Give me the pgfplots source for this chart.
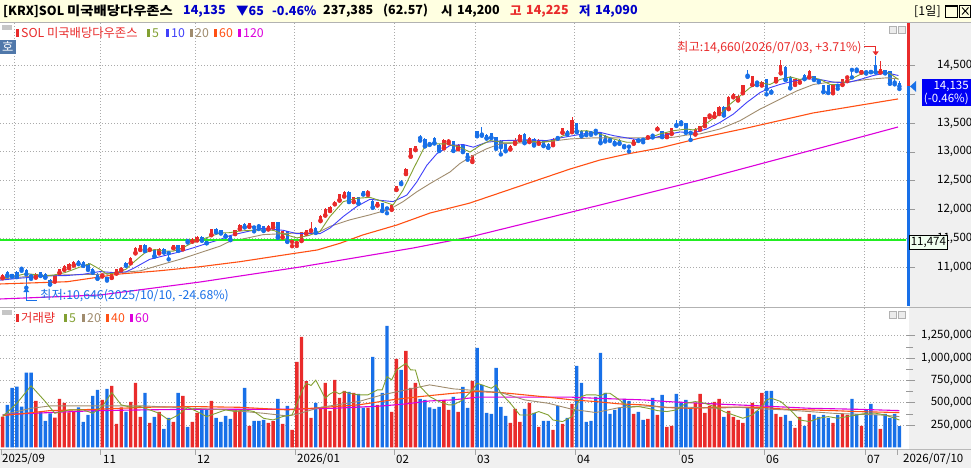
\documentclass[border=0pt]{standalone}
\usepackage{fontspec}
\setmainfont{Noto Sans CJK KR}
\usepackage{graphicx}
\usepackage{pgfplots}
\usepackage{pgfplotstable}
\pgfplotsset{compat=1.18}

\definecolor{cup}{RGB}{233,43,43}
\definecolor{cdn}{RGB}{24,112,232}
\definecolor{ma5}{RGB}{130,160,50}
\definecolor{ma10}{RGB}{64,64,250}
\definecolor{ma20}{RGB}{160,140,110}
\definecolor{ma60}{RGB}{255,80,20}
\definecolor{ma120}{RGB}{220,0,220}
\definecolor{hline}{RGB}{34,238,34}
\definecolor{hdrbg}{RGB}{255,255,225}
\definecolor{panelbg}{RGB}{240,240,240}
\definecolor{gridc}{RGB}{170,170,170}
\definecolor{txtblue}{RGB}{0,0,200}
\definecolor{boxblue}{RGB}{0,0,245}
\definecolor{hobg}{RGB}{80,120,170}
\newcommand\fs{\fontsize{11.5}{13}\selectfont}
\newcommand\fl{\fontsize{12.3}{13.5}\selectfont}
\newcommand\fh{\fontsize{12.5}{14}\selectfont\bfseries}

\pgfplotstableread{
i O H L C V u
0 10825 10885 10810 10870 344000 1
1 10926 10940 10850 10863 475000 0
2 10880 10890 10835 10850 665000 0
3 10920 10930 10830 10840 680000 0
4 10985 11010 10940 10975 456000 0
5 10960 10975 10646 10880 837000 0
6 10875 10890 10800 10845 837000 0
7 10830 10895 10820 10880 519000 1
8 10910 10920 10850 10860 400000 0
9 10890 10900 10820 10830 295000 0
10 10780 10790 10700 10710 381000 0
11 10760 10870 10750 10860 333000 1
12 10909 10975 10900 10966 542000 1
13 10966 11035 10955 11023 497000 1
14 10995 11070 10985 11063 392000 1
15 11040 11110 11030 11097 396000 1
16 11109 11125 11055 11063 448000 0
17 11097 11110 11025 11035 284000 0
18 11063 11075 10955 10966 362000 0
19 10970 10985 10905 10920 575000 0
20 10880 10895 10800 10812 643000 0
21 10860 10880 10840 10868 531000 1
22 10830 10840 10770 10800 654000 0
23 10823 10920 10815 10909 688000 1
24 10900 10975 10890 10966 262000 1
25 10960 11000 10950 10990 448000 1
26 11080 11090 11025 11035 396000 0
27 11080 11175 11070 11166 508000 1
28 11252 11345 11240 11338 721000 1
29 11309 11395 11300 11383 340000 1
30 11395 11405 11280 11292 609000 0
31 11309 11350 11300 11338 273000 1
32 11298 11310 11185 11195 340000 0
33 11252 11330 11240 11320 396000 1
34 11320 11330 11255 11263 206000 0
35 11250 11260 11138 11245 329000 0
36 11338 11390 11330 11383 284000 1
37 11378 11390 11285 11292 609000 0
38 11320 11390 11310 11383 575000 1
39 11460 11480 11430 11455 228000 0
40 11452 11500 11445 11492 284000 1
41 11475 11535 11465 11527 385000 1
42 11527 11535 11460 11470 422000 0
43 11490 11500 11415 11423 418000 0
44 11566 11672 11555 11664 519000 1
45 11669 11680 11605 11612 329000 0
46 11640 11650 11585 11595 284000 0
47 11578 11590 11530 11538 351000 0
48 11538 11550 11470 11481 318000 0
49 11583 11650 11575 11640 418000 1
50 11669 11745 11660 11738 411000 1
51 11750 11760 11690 11700 665000 0
52 11710 11775 11700 11765 240000 1
53 11700 11720 11623 11690 295000 0
54 11720 11755 11663 11710 295000 0
55 11709 11715 11630 11640 306000 0
56 11663 11730 11655 11720 273000 1
57 11697 11790 11690 11777 292000 1
58 11777 11790 11510 11526 542000 0
59 11526 11635 11515 11623 262000 1
60 11623 11630 11440 11451 463000 0
61 11440 11470 11366 11450 194000 1
62 11420 11440 11370 11430 957000 1
63 11469 11615 11455 11606 1237000 1
64 11590 11650 11580 11640 741000 1
65 11640 11777 11630 11660 329000 1
66 11686 11700 11595 11606 497000 0
67 11812 11900 11800 11892 448000 1
68 11903 12025 11895 12017 721000 1
69 11983 12060 11975 12052 407000 1
70 12098 12155 12090 12110 755000 1
71 12166 12270 12155 12263 553000 1
72 12235 12315 12225 12309 631000 1
73 12309 12320 12130 12138 620000 0
74 12138 12220 12130 12212 609000 1
75 12212 12220 12100 12109 598000 0
76 12321 12330 12260 12269 444000 0
77 12290 12338 12252 12300 444000 1
78 12149 12160 12030 12040 1013000 0
79 12080 12135 12070 12126 474000 1
80 12109 12120 11975 11983 609000 0
81 12035 12040 11937 12020 1360000 0
82 12006 12090 11995 12080 396000 1
83 12349 12415 12340 12406 990000 1
84 12470 12509 12441 12460 867000 0
85 12624 12720 12615 12709 1080000 1
86 12927 13075 12915 13064 665000 1
87 13041 13110 13030 13098 721000 1
88 13250 13293 13195 13240 542000 0
89 13224 13235 13095 13104 531000 0
90 13150 13155 13121 13135 448000 0
91 13241 13250 13145 13155 429000 0
92 13121 13130 13015 13024 452000 0
93 13070 13215 13060 13207 531000 1
94 13180 13215 13150 13190 418000 1
95 13184 13195 13015 13024 564000 0
96 13052 13130 13045 13121 396000 1
97 13121 13130 12996 13007 676000 0
98 12978 12985 12864 12910 441000 0
99 12853 12950 12824 12940 744000 1
100 13356 13370 13270 13282 1114000 0
101 13310 13425 13280 13300 699000 0
102 13299 13310 13230 13242 385000 0
103 13327 13335 13240 13253 374000 0
104 13253 13260 13053 13081 889000 0
105 13196 13200 12956 13081 452000 0
106 13139 13150 13010 13024 351000 0
107 13053 13120 13040 13110 273000 1
108 13150 13242 13140 13207 430000 1
109 13213 13310 13200 13299 284000 1
110 13310 13320 13150 13167 430000 0
111 13184 13250 13170 13242 497000 1
112 13224 13235 13110 13127 385000 0
113 13150 13215 13140 13207 228000 1
114 13184 13195 13100 13110 295000 0
115 13139 13150 13070 13081 295000 0
116 13127 13235 13115 13224 194000 1
117 13253 13275 13230 13240 460000 0
118 13339 13420 13330 13413 262000 1
119 13367 13380 13300 13310 329000 0
120 13356 13607 13340 13550 486000 1
121 13493 13505 13340 13356 912000 0
122 13367 13375 13270 13282 721000 0
123 13367 13375 13290 13299 284000 0
124 13335 13345 13295 13325 295000 0
125 13375 13400 13320 13365 564000 0
126 13327 13335 13150 13167 1058000 0
127 13282 13290 13180 13196 609000 0
128 13215 13230 13190 13205 374000 0
129 13196 13205 13130 13150 418000 0
130 13213 13220 13140 13150 441000 0
131 13110 13115 13081 13100 542000 0
132 13099 13110 13007 13090 519000 0
133 13150 13215 13140 13207 374000 1
134 13210 13230 13190 13200 396000 0
135 13224 13240 13167 13210 306000 0
136 13253 13290 13245 13280 318000 1
137 13290 13310 13250 13280 553000 0
138 13396 13445 13390 13436 362000 1
139 13356 13365 13255 13264 587000 0
140 13264 13330 13255 13321 228000 1
141 13321 13420 13310 13413 239000 1
142 13475 13550 13450 13465 598000 0
143 13525 13545 13480 13510 508000 0
144 13493 13500 13330 13339 531000 0
145 13340 13360 13207 13330 441000 0
146 13310 13405 13300 13396 497000 1
147 13397 13450 13385 13442 598000 1
148 13454 13605 13445 13597 385000 1
149 13630 13660 13600 13640 463000 1
150 13614 13700 13605 13694 508000 1
151 13665 13790 13655 13780 542000 1
152 13780 13790 13630 13637 340000 0
153 13751 13965 13740 13957 407000 1
154 13957 14020 13945 14008 340000 1
155 13900 13980 13890 13968 306000 1
156 14026 14165 14015 14157 273000 1
157 14330 14426 14300 14320 441000 0
158 14168 14320 14160 14311 497000 1
159 14210 14214 14157 14200 407000 0
160 14157 14220 14150 14214 609000 1
161 14254 14260 13997 14083 631000 0
162 14060 14083 14026 14040 631000 0
163 14226 14300 14220 14294 374000 1
164 14369 14586 14360 14500 340000 1
165 14471 14480 14245 14254 362000 0
166 14300 14310 14100 14111 295000 0
167 14168 14260 14160 14254 217000 1
168 14208 14265 14200 14254 340000 1
169 14340 14350 14260 14271 239000 0
170 14300 14410 14290 14397 374000 1
171 14311 14320 14245 14254 362000 0
172 14240 14254 14208 14226 340000 0
173 14151 14160 14035 14043 362000 0
174 14151 14160 14020 14026 329000 0
175 14026 14160 14015 14151 273000 1
176 14155 14170 14094 14145 362000 0
177 14168 14265 14160 14254 374000 1
178 14290 14323 14226 14300 362000 1
179 14440 14460 14290 14420 542000 0
180 14440 14460 14400 14425 374000 0
181 14380 14420 14375 14414 239000 1
182 14390 14400 14357 14380 418000 0
183 14397 14410 14380 14385 486000 0
184 14512 14660 14375 14380 362000 0
185 14380 14569 14375 14437 206000 1
186 14414 14420 14360 14369 374000 0
187 14397 14400 14180 14186 329000 0
188 14210 14254 14170 14200 374000 0
189 14200 14225 14090 14135 237385 0
}\candles

\pgfplotsset{
  chartaxis/.style={
    scale only axis, anchor=south west, width=906pt,
    xmin=-0.55, xmax=190.39,
    axis line style={draw=none},
    xtick={2.58,20.58,40.58,61.58,82.58,99.58,120.58,142.58,160.58,181.58},
    xticklabels={}, xtick style={draw=none},
    ytick pos=right, yticklabel pos=right,
    tick align=outside, major tick length=9pt, minor tick length=7pt,
    ytick style={draw=gray!80, line width=0.6pt},
    grid=major,
    major grid style={draw=gridc, dash pattern=on 1pt off 2pt, line width=0.8pt},
    scaled y ticks=false,
    yticklabel style={font=\fs, anchor=east, inner sep=0pt, xshift=57.5pt,
      /pgf/number format/fixed, /pgf/number format/precision=0,
      /pgf/number format/1000 sep={,}, /pgf/number format/assume math mode=true},
  },
  wick/.style={only marks, mark=none, forget plot, color=#1, draw=#1,
    error bars/.cd, y dir=plus, y explicit, error mark=none,
    error bar style={draw=#1, color=#1, line width=1pt}, /pgfplots/.cd},
  body/.style={only marks, mark=none, forget plot, color=#1, draw=#1,
    error bars/.cd, y dir=plus, y explicit, error mark=none,
    error bar style={draw=#1, color=#1, line width=3.4pt}, /pgfplots/.cd},
}

\begin{document}
\begin{tikzpicture}
\useasboundingbox (0pt,0pt) rectangle (971pt,-468pt);
\clip (0pt,0pt) rectangle (971pt,-468pt);
\begin{scope}[x=1pt,y=1pt]
\fill[white] (0,0) rectangle (971,-468);
\fill[hdrbg] (0,0) rectangle (971,-22);
\draw[gray!60, line width=1pt] (0,-22.5) -- (971,-22.5);
\fill[panelbg] (909,-23) rectangle (971,-449);
\fill[panelbg] (0,-449) rectangle (971,-468);
\draw[gray!55] (0,-449) -- (971,-449);
\draw[gray!60, line width=1pt] (0,-307) -- (971,-307);
\end{scope}

% ---------------- price panel ----------------
\begin{axis}[chartaxis, at={(0pt,-306pt)}, height=283pt,
  ymin=10329.4, ymax=15233,
  ytick={11000,11500,12000,12500,13000,13500,14500},
  extra y ticks={14000}, extra y tick labels={},
  extra y tick style={grid=major},
  minor y tick num=1]
\addplot[restrict expr to domain={\thisrow{u}}{0.5:1.5}, wick=cup]
  table[x=i, y=L, y error plus expr={\thisrow{H}-\thisrow{L}}] {\candles};
\addplot[restrict expr to domain={\thisrow{u}}{-0.5:0.5}, wick=cdn]
  table[x=i, y=L, y error plus expr={\thisrow{H}-\thisrow{L}}] {\candles};
\addplot[restrict expr to domain={\thisrow{u}}{0.5:1.5}, body=cup]
  table[x=i, y expr={min(\thisrow{O},\thisrow{C})}, y error plus expr={max(abs(\thisrow{C}-\thisrow{O}),18)}] {\candles};
\addplot[restrict expr to domain={\thisrow{u}}{-0.5:0.5}, body=cdn]
  table[x=i, y expr={min(\thisrow{O},\thisrow{C})}, y error plus expr={max(abs(\thisrow{C}-\thisrow{O}),18)}] {\candles};

% 120 MA
\addplot[ma120, line width=1.1pt] coordinates {(-0.55,10451)(20.5,10520)(41.6,10745)(50,10849)(62.7,11005)(86.5,11334)(98.5,11525)(125.9,12079)(147,12513)(175.4,13136)(188.7,13431)};
% 60 MA
\addplot[ma60, line width=1.1pt] coordinates {(-0.55,10711)(13.6,10750)(24.7,10884)(33.2,10941)(41.6,11010)(50,11097)(60.6,11230)(66.3,11300)(71.1,11416)(75.9,11560)(83.1,11733)(90.1,11941)(98.5,12114)(119.6,12703)(125.9,12859)(131.6,12963)(138.5,13067)(147,13240)(156.9,13414)(170.8,13674)(188.7,13917)};
% 20 MA
\addplot[ma20, line width=0.9pt] coordinates {(-0.5,10794)(6.5,10852)(13.5,10869)(20.5,10880)(24.7,10909)(29,10938)(33.2,11040)(37.4,11138)(41.6,11252)(45.8,11366)(47.9,11450)(50,11480)(54.9,11566)(62,11594)(66.2,11594)(69,11709)(73.2,11823)(77.4,11909)(81.6,12006)(84.4,12138)(87.3,12309)(90.1,12452)(94.3,12652)(96.4,12800)(99.2,12939)(102,13053)(104.8,13139)(107.6,13150)(114,13167)(119.6,13224)(124.5,13242)(131.5,13242)(135.7,13242)(141.4,13253)(144,13290)(147,13311)(151.2,13397)(155.4,13540)(159.6,13740)(163.8,13911)(167.3,14054)(170.9,14168)(174.4,14208)(177.9,14208)(182.1,14254)(186.3,14283)(188.8,14266)};
% 10 MA
\addplot[ma10, line width=0.9pt] coordinates {(-0.5,10777)(3.7,10812)(10,10852)(13.5,10857)(17,10880)(20.5,10926)(23.3,10909)(26,10920)(27.6,10983)(31,11138)(34.6,11212)(37.4,11269)(40.2,11338)(43,11412)(45.8,11481)(47.9,11549)(50,11590)(54.9,11680)(59.2,11640)(62,11583)(66.9,11583)(69,11680)(71.8,11880)(74.6,12052)(77.4,12178)(80.2,12155)(82.3,12138)(85.2,12252)(87.3,12481)(89.4,12767)(91.5,12967)(94.3,13110)(97.1,13127)(99.2,13081)(102,13167)(105.5,13196)(110.5,13207)(114.7,13196)(117.5,13242)(120.3,13282)(123.1,13321)(125.9,13339)(128.7,13282)(131.5,13242)(134.3,13207)(137.1,13242)(140,13299)(142.8,13345)(145.6,13328)(148.4,13397)(151.2,13511)(154,13654)(156.8,13854)(159.6,14026)(161.7,14111)(163.8,14168)(166.6,14226)(169.5,14266)(172.3,14254)(175.1,14208)(177.9,14197)(180.7,14254)(183.5,14323)(186.3,14369)(188.8,14323)};
% 5 MA
\addplot[ma5, line width=0.9pt] coordinates {(-0.5,10812)(3,10852)(5,10892)(7.2,10869)(9.3,10852)(11,10869)(13.2,10909)(16,10995)(18.4,11063)(20.5,10966)(22,10880)(24,10909)(26,10966)(27.9,11109)(30,11252)(32,11309)(33.9,11281)(36,11281)(38,11338)(39.9,11423)(41.9,11481)(43.9,11538)(45.9,11595)(47.9,11600)(50,11630)(54.9,11650)(57.1,11640)(58.5,11594)(62,11509)(64.5,11550)(66.9,11623)(69,11880)(71.8,12138)(74.6,12195)(77.4,12212)(80.2,12138)(82.3,12080)(84.4,12338)(86.6,12709)(88.7,13052)(90.1,13138)(93.6,13138)(96.4,13081)(98.5,12996)(100.6,13110)(102.7,13196)(105.5,13167)(108.3,13167)(110.5,13196)(113.3,13167)(116.1,13196)(118.2,13282)(120.3,13356)(123.1,13367)(125.9,13310)(128.7,13224)(131.5,13167)(133.6,13167)(135.7,13224)(138.5,13310)(141.4,13367)(144.2,13396)(145.5,13380)(147,13410)(149.1,13540)(151.2,13654)(153.3,13825)(155.4,13968)(157.5,14111)(159.6,14197)(161.7,14168)(163.8,14254)(166,14300)(168,14254)(170.2,14300)(172.3,14254)(174.4,14168)(176.5,14168)(178.6,14254)(180.7,14340)(182.8,14380)(184.9,14397)(187,14357)(188.8,14254)};
% horizontal line at 11,474
\addplot[hline, line width=2pt] coordinates {(-1,11474)(191,11474)};
\end{axis}

% ---------------- volume panel ----------------
\begin{axis}[chartaxis, at={(0pt,-447.3pt)}, height=139.3pt,
  ymin=0, ymax=1559561,
  ytick={250000,500000,750000,1000000,1250000}, minor y tick num=1]
\addplot[ybar, bar width=3.4pt, bar shift=0pt, fill=cup, draw=none, forget plot,
  restrict expr to domain={\thisrow{u}}{0.5:1.5}] table[x=i, y=V] {\candles};
\addplot[ybar, bar width=3.4pt, bar shift=0pt, fill=cdn, draw=none, forget plot,
  restrict expr to domain={\thisrow{u}}{-0.5:0.5}] table[x=i, y=V] {\candles};
\addplot[ma120, line width=1.1pt] coordinates {(0,366000)(10,389000)(20,411000)(30,419000)(40,426000)(50,426000)(60,426000)(70,437000)(80,463000)(85,486000)(90,519000)(95,531000)(100,561000)(110,561000)(120,561000)(125,549000)(135,531000)(140,512000)(150,486000)(160,463000)(170,437000)(180,426000)(189,411000)};
\addplot[ma60, line width=1.1pt] coordinates {(0,355000)(5,381000)(10,411000)(20,426000)(30,448000)(40,456000)(50,448000)(60,419000)(65,437000)(75,475000)(82,531000)(88,568000)(95,605000)(100,624000)(105,613000)(110,587000)(115,561000)(120,531000)(125,512000)(130,486000)(135,475000)(140,445000)(145,437000)(150,448000)(155,448000)(160,448000)(165,426000)(170,419000)(175,411000)(180,400000)(189,389000)};
\addplot[ma20, line width=0.9pt] coordinates {(0,362000)(6,437000)(10,463000)(30,463000)(40,437000)(47,419000)(55,381000)(60,351000)(62,370000)(67,448000)(75,512000)(80,587000)(85,643000)(90,699000)(95,654000)(100,635000)(105,613000)(110,531000)(115,493000)(120,426000)(125,389000)(130,445000)(135,463000)(140,448000)(145,448000)(150,437000)(155,448000)(160,430000)(165,419000)(170,400000)(175,381000)(180,370000)(185,362000)(189,344000)};
\addplot[ma5, line width=0.9pt] coordinates {(0,344000)(3,493000)(6,688000)(9,512000)(11,381000)(14,419000)(17,419000)(19,381000)(21,456000)(23,613000)(25,475000)(27,448000)(29,456000)(31,419000)(33,381000)(35,306000)(37,362000)(39,448000)(41,400000)(43,344000)(45,381000)(47,419000)(49,400000)(51,419000)(53,400000)(55,325000)(57,306000)(59,344000)(61,362000)(62,484000)(63,623000)(64,718000)(65,692000)(66,752000)(67,650000)(68,547000)(69,598000)(70,624000)(71,598000)(72,624000)(73,605000)(75,587000)(77,587000)(79,643000)(80,643000)(81,792000)(82,755000)(83,867000)(84,904000)(85,939000)(86,867000)(87,865000)(88,680000)(90,568000)(92,512000)(94,475000)(95,475000)(97,531000)(99,643000)(100,717000)(101,699000)(102,680000)(103,661000)(104,699000)(105,605000)(107,493000)(109,362000)(111,362000)(113,400000)(115,362000)(116,306000)(118,288000)(120,344000)(121,475000)(122,568000)(123,587000)(125,587000)(126,575000)(127,605000)(128,605000)(129,568000)(130,531000)(132,448000)(134,456000)(136,437000)(138,411000)(140,400000)(142,419000)(144,493000)(146,512000)(148,493000)(150,456000)(152,400000)(154,362000)(156,325000)(158,362000)(160,456000)(161,531000)(162,549000)(163,531000)(164,512000)(166,419000)(168,306000)(170,288000)(172,325000)(174,344000)(176,325000)(178,344000)(180,362000)(182,381000)(184,381000)(186,362000)(188,325000)(189,306000)};
\end{axis}

\begin{scope}[x=1pt,y=1pt, t/.style={font=\fl, inner sep=0pt, anchor=west}, h/.style={font=\fh, inner sep=0pt, anchor=west}]
% ---------------- right side decorations ----------------
\fill[cup] (906.5,-23) rectangle (909.5,-86.4);
\fill[cdn] (906.5,-86.4) rectangle (909.5,-306);
\fill[cdn] (910,-86.4) -- (916,-81) -- (916,-91.8) -- cycle;
\node[fill=boxblue, text=white, font=\fs, align=right, anchor=north east, inner xsep=1pt, inner ysep=1.5pt, minimum width=49pt] at (971,-79) {14,135\\(-0.46\%)};
\node[draw=black, line width=0.6pt, fill={rgb,255:red,240;green,255;blue,240}, font=\fs, anchor=west, inner xsep=1.5pt, inner ysep=1pt, minimum height=14pt] at (909,-242) {11,474};

% ---------------- header ----------------
\node[h] at (3,-11) {[KRX]SOL \scalebox{1.15}[1]{미국배당다우존스}};
\node[h, text=txtblue] at (183,-11) {14,135};
\node[h, text=txtblue] at (236,-11) {▼65};
\node[h, text=txtblue] at (272,-11) {-0.46\%};
\node[h] at (323,-11) {237,385};
\node[h] at (383,-11) {(62.57)};
\node[h] at (441,-11) {시};
\node[h] at (457,-11) {14,200};
\node[h, text=cup] at (510,-11) {고};
\node[h, text=cup] at (526,-11) {14,225};
\node[h, text=txtblue] at (579,-11) {저};
\node[h, text=txtblue] at (595,-11) {14,090};
\node[t] at (914,-11) {[1일]};
\draw[black, line width=0.8pt] (945.5,-5) rectangle (957.5,-17);
\draw[black, line width=1.4pt] (946,-6.5) -- (957,-6.5);
\draw[black, line width=0.8pt] (959.5,-5) rectangle (970.5,-17);
\draw[black, line width=0.9pt] (962,-7.5) -- (968.5,-14.5) (962,-14.5) -- (968.5,-7.5);

% ---------------- legends ----------------
\fill[gray!45] (2,-25) rectangle (12,-30);
\fill[hobg] (0,-40) rectangle (16,-54);
\node[t, text=white] at (2,-47) {호};
\fill[cup] (16,-29) rectangle (18.5,-37);
\node[t, text=cup] at (21,-33) {SOL 미국배당다우존스};
\fill[ma5] (147,-29) rectangle (149.5,-37);   \node[t, text=ma5] at (152,-33) {5};
\fill[ma10] (166,-29) rectangle (168.5,-37);  \node[t, text=ma10] at (171,-33) {10};
\fill[ma20] (190,-29) rectangle (192.5,-37);  \node[t, text=ma20] at (195,-33) {20};
\fill[ma60] (214,-29) rectangle (216.5,-37);  \node[t, text=ma60] at (219,-33) {60};
\fill[ma120] (238,-29) rectangle (240.5,-37); \node[t, text=ma120] at (243,-33) {120};
\fill[gray!45] (2,-310) rectangle (12,-315);
\fill[cup] (16,-314) rectangle (18.5,-322);
\node[t, text=cup] at (21,-318) {거래량};
\fill[ma5] (64,-314) rectangle (66.5,-322);   \node[t, text=ma5] at (69,-318) {5};
\fill[ma20] (82,-314) rectangle (84.5,-322);  \node[t, text=ma20] at (87,-318) {20};
\fill[ma60] (106,-314) rectangle (108.5,-322); \node[t, text=ma60] at (111,-318) {40};
\fill[ma120] (130,-314) rectangle (132.5,-322); \node[t, text=ma120] at (135,-318) {60};
% small panel buttons
\foreach \yy in {-26,-311} {
  \draw[gray!60, fill=gray!15] (889,\yy) rectangle (896,\yy-7);
  \draw[gray!60, fill=gray!15] (898,\yy) rectangle (905,\yy-7);
}

% ---------------- annotations ----------------
\node[t, text=cup] at (677,-48) {최고:14,660(2026/07/03, +3.71\%)};
\draw[cup, line width=0.8pt] (864,-46.5) -- (875.7,-46.5) -- (875.7,-52);
\fill[cup] (872.7,-51.5) -- (878.7,-51.5) -- (875.7,-55.5) -- cycle;
\node[t, text=cdn] at (40,-296) {최저:10,646(2025/10/10, -24.68\%)};
\draw[cdn, line width=0.8pt] (26.3,-290) -- (26.3,-300) -- (37,-300);
\fill[cdn] (23.3,-292) -- (29.3,-292) -- (26.3,-288) -- cycle;

% ---------------- date axis ----------------
\foreach \xx in {1,100,195,295,394.5,475,575,679,764,865,897}
  \draw[gray!70, line width=0.8pt] (\xx,-449) -- (\xx,-455);
\node[t, font=\fs] at (2,-459) {2025/09};
\node[t, font=\fs] at (103,-459) {11};
\node[t, font=\fs] at (197,-459) {12};
\node[t, font=\fs] at (297,-459) {2026/01};
\node[t, font=\fs] at (396,-459) {02};
\node[t, font=\fs] at (477,-459) {03};
\node[t, font=\fs] at (577,-459) {04};
\node[t, font=\fs] at (681,-459) {05};
\node[t, font=\fs] at (766,-459) {06};
\node[t, font=\fs] at (867,-459) {07};
\node[t, font=\fs] at (903,-459) {2026/07/10};
\end{scope}
\end{tikzpicture}
\end{document}
